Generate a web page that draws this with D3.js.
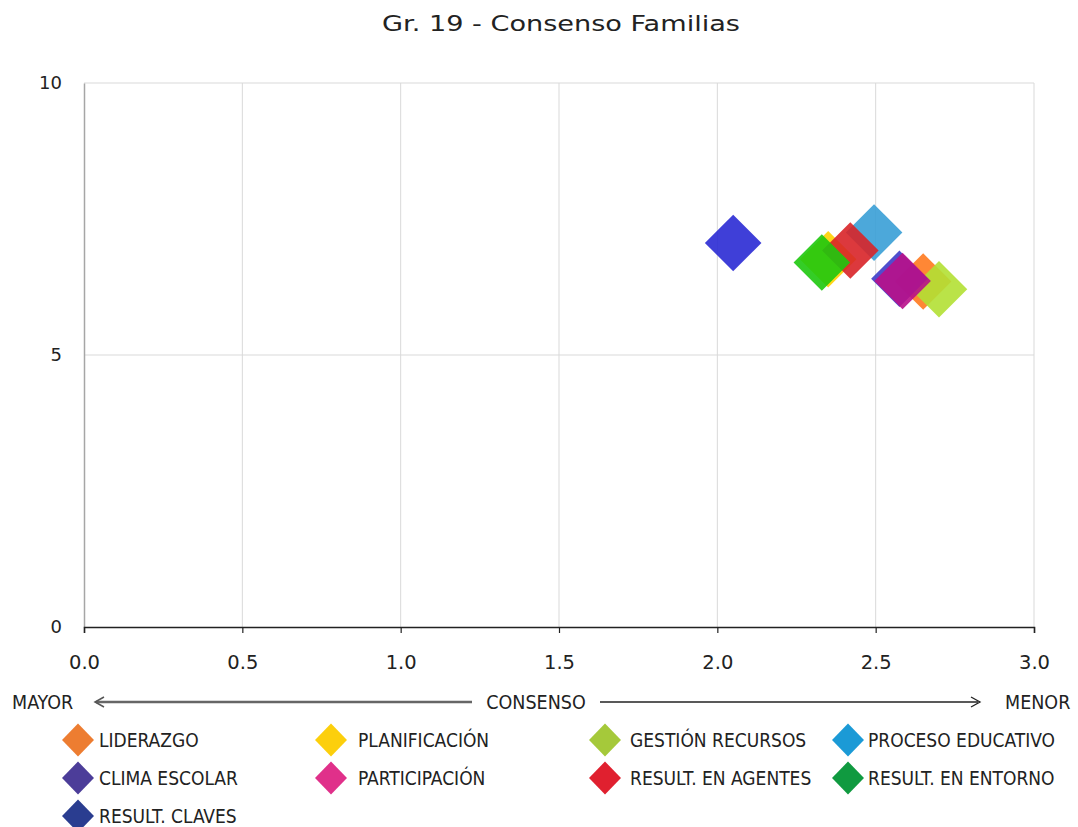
<!DOCTYPE html>
<html><head><meta charset="utf-8">
<script src="https://cdn.jsdelivr.net/npm/d3@7"></script>
<style>
body{margin:0;background:#fff;}
svg{display:block;}
</style></head>
<body>
<script>
const title = "Gr. 19 - Consenso Familias";
const categories = ["LIDERAZGO","PLANIFICACIÓN","GESTIÓN RECURSOS","PROCESO EDUCATIVO","CLIMA ESCOLAR","PARTICIPACIÓN","RESULT. EN AGENTES","RESULT. EN ENTORNO","RESULT. CLAVES"];
const consenso = [2.65, 2.35, 2.70, 2.495, 2.575, 2.585, 2.42, 2.33, 2.05];
const valores  = [6.35, 6.76, 6.21, 7.25, 6.40, 6.36, 6.92, 6.70, 7.06];
const pointColors  = ["#ff7a1f","#ffd200","#b2e034","#389fd6","#3c3cc8","#b8108a","#d82428","#1ec80e","#2a2ad4"];
const legendColors = ["#ed7d31","#fccf0c","#a5c93a","#1b9ad6","#4c3d99","#e0308a","#e0202f","#109a40","#2a3d90"];
const xTicks = [0, 0.5, 1, 1.5, 2, 2.5, 3];
const yTicks = [0, 5, 10];
const axisWords = ["MAYOR","CONSENSO","MENOR"];

const W = 1078, H = 827;
const VERD = "'DejaVu Sans', Verdana, sans-serif";
const COND = "'DejaVu Sans Condensed', 'DejaVu Sans', sans-serif";
const svg = d3.select("body").append("svg").attr("width", W).attr("height", H);

const x = d3.scaleLinear().domain([0,3]).range([84,1034]);
const y = d3.scaleLinear().domain([0,10]).range([627,83]);

svg.append("text").attr("x",382).attr("y",31)
  .attr("textLength",358).attr("lengthAdjust","spacingAndGlyphs")
  .style("font-family",VERD).style("font-size","21px").attr("fill","#222")
  .text(title);

// grid
const g = svg.append("g");
g.selectAll(".vg").data(xTicks.slice(1)).join("line")
  .attr("x1",d=>x(d)).attr("x2",d=>x(d)).attr("y1",y(10)).attr("y2",y(0))
  .attr("stroke","#d9d9d9").attr("stroke-width",1);
g.selectAll(".hg").data(yTicks.slice(1)).join("line")
  .attr("x1",x(0)).attr("x2",x(3)).attr("y1",d=>y(d)).attr("y2",d=>y(d))
  .attr("stroke","#d9d9d9").attr("stroke-width",1);

// y axis
const ya = svg.append("g").attr("transform",`translate(${x(0)},0)`)
  .call(d3.axisLeft(y).tickValues(yTicks).tickSize(0).tickPadding(22).tickFormat(d3.format("d")));
ya.select(".domain").attr("stroke","#a6a6a6").attr("stroke-width",1.5);
ya.selectAll("text").style("font-family",VERD).style("font-size","18px").attr("fill","#222");

// x axis
const xa = svg.append("g").attr("transform",`translate(0,${y(0)})`)
  .call(d3.axisBottom(x).tickValues(xTicks).tickSize(6).tickSizeOuter(6).tickPadding(22).tickFormat(d3.format(".1f")));
xa.select(".domain").attr("stroke","#222").attr("stroke-width",1.5);
xa.selectAll(".tick line").attr("stroke","#222").attr("stroke-width",1.2);
xa.selectAll("text").style("font-family",VERD).style("font-size","19.5px").attr("fill","#222");

// points
const diamond = d3.symbol().type(d3.symbolSquare).size(1600);
svg.append("g").selectAll("path").data(categories).join("path")
  .attr("d", diamond)
  .attr("transform",(d,i)=>`translate(${x(consenso[i])},${y(valores[i])}) rotate(45)`)
  .attr("fill",(d,i)=>pointColors[i]).attr("fill-opacity",0.9);

// consenso arrow row
const ay = 702;
function word(t, xx, anchor){
  svg.append("text").attr("x",xx).attr("y",709).attr("text-anchor",anchor)
    .style("font-family",COND).style("font-size","19.5px").attr("fill","#222").text(t);
}
word(axisWords[0], 12, "start");
word(axisWords[1], 536, "middle");
word(axisWords[2], 1005, "start");
svg.append("line").attr("x1",96).attr("x2",472).attr("y1",ay).attr("y2",ay).attr("stroke","#666").attr("stroke-width",2.5);
svg.append("path").attr("d",`M104,${ay-5} L95,${ay} L104,${ay+5}`).attr("fill","none").attr("stroke","#555").attr("stroke-width",1.5);
svg.append("line").attr("x1",600).attr("x2",978).attr("y1",ay).attr("y2",ay).attr("stroke","#222").attr("stroke-width",1.3);
svg.append("path").attr("d",`M971,${ay-5} L980,${ay} L971,${ay+5}`).attr("fill","none").attr("stroke","#222").attr("stroke-width",1.3);

// legend
const colX = [78, 331, 605, 848];
const colT = [99, 358, 630, 868];
const rowY = [740, 778, 816];
const leg = svg.append("g").selectAll("g").data(categories).join("g")
  .attr("transform",(d,i)=>`translate(0,${rowY[Math.floor(i/4)]})`);
leg.append("path").attr("d","M0,-16.5 L16,0 L0,16.5 L-16,0 Z")
  .attr("transform",(d,i)=>`translate(${colX[i%4]},0)`).attr("fill",(d,i)=>legendColors[i]);
leg.append("text").attr("x",(d,i)=>colT[i%4]).attr("y",7)
  .style("font-family",COND).style("font-size","19px").attr("fill","#222").text(d=>d);
</script>
</body></html>
